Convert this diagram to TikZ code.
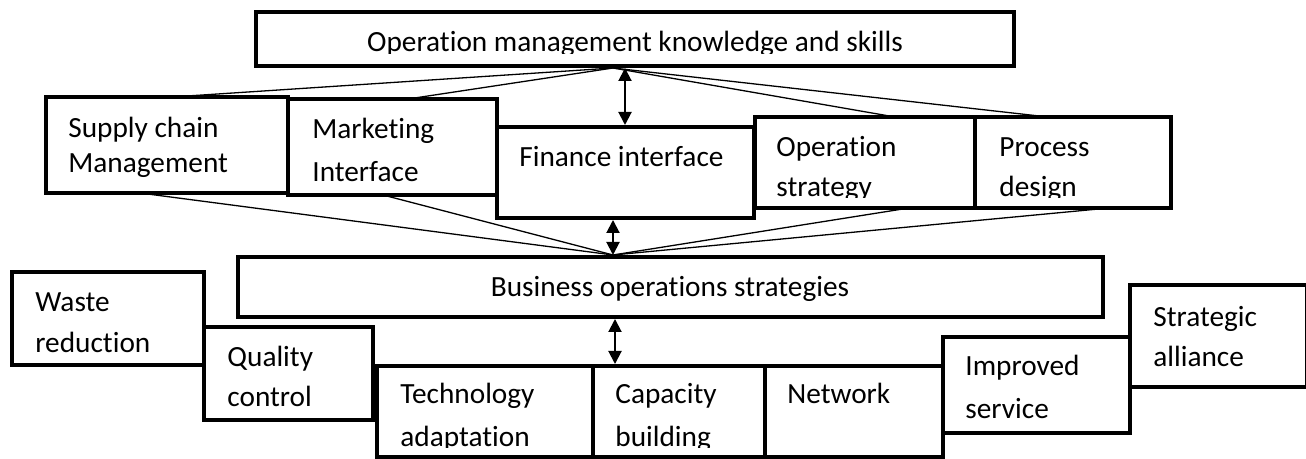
\documentclass[tikz,border=0pt]{standalone}
\usepackage{fontspec}
\setmainfont{Carlito}[Ligatures=NoCommon]
\usetikzlibrary{arrows.meta,calc,backgrounds}
\begin{document}
\begin{tikzpicture}[x=0.5pt,y=-0.5pt,
  bx/.style={draw,fill=white,line width=2pt,inner sep=0pt,outer sep=0pt},
  lbl/.style={anchor=base west,inner sep=0pt,font=\fontsize{14.65pt}{17pt}\selectfont},
  clbl/.style={anchor=base,inner sep=0pt,font=\fontsize{14.65pt}{17pt}\selectfont},
  conn/.style={line width=0.65pt},
  dbl/.style={line width=1pt,{Triangle[length=6.5pt,width=6.5pt]}-{Triangle[length=6.5pt,width=6.5pt]},shorten <=1pt,shorten >=1pt}]
\useasboundingbox (0,0) rectangle (1306,459);
% boxes
\node[bx,minimum width=379pt,minimum height=27pt] (top) at (635,39) {};
\node[bx,minimum width=121pt,minimum height=48pt] (sc) at (167,145) {};
\node[bx,minimum width=104.5pt,minimum height=48pt] (mk) at (392.5,147) {};
\node[bx,minimum width=128.5pt,minimum height=45.5pt] (fi) at (625.5,172.5) {};
\node[bx,minimum width=110pt,minimum height=45.5pt] (os) at (865,162.5) {};
\node[bx,minimum width=98pt,minimum height=45.5pt] (pd) at (1073,162.5) {};
\node[bx,minimum width=432.5pt,minimum height=30pt] (bos) at (670.5,287) {};
\node[bx,minimum width=96pt,minimum height=46.5pt] (wr) at (108,318.5) {};
\node[bx,minimum width=84.5pt,minimum height=46.5pt] (qc) at (288.5,373.5) {};
\node[bx,minimum width=108pt,minimum height=45.5pt] (ta) at (485,411.5) {};
\node[bx,minimum width=86pt,minimum height=45.5pt] (cb) at (679,411.5) {};
\node[bx,minimum width=89pt,minimum height=45.5pt] (nw) at (854,411.5) {};
\node[bx,minimum width=93.5pt,minimum height=48pt] (is) at (1036.5,385) {};
\node[bx,minimum width=88.5pt,minimum height=51pt] (sa) at (1218.5,336) {};
% hubs
\coordinate (hubT) at ($(top.south west)+(357,2)$);
\coordinate (hubB) at ($(bos.north west)+(375,-2)$);
\begin{pgfonlayer}{background}
\draw[conn] (hubT) -- ($(sc.north west)+(126,0)$);
\draw[conn] (hubT) -- ($(mk.north west)+(120,0)$);
\draw[conn] (hubT) -- ($(os.north west)+(140,0)$);
\draw[conn] (hubT) -- ($(pd.north west)+(73,0)$);
\draw[conn] (hubB) -- ($(sc.south west)+(94,0)$);
\draw[conn] (hubB) -- ($(mk.south west)+(95,0)$);
\draw[conn] (hubB) -- ($(os.south west)+(154,0)$);
\draw[conn] (hubB) -- ($(pd.south west)+(134,0)$);
\end{pgfonlayer}
% double arrows
\coordinate (a1) at ($(fi.north west)+(128,0)$);
\draw[dbl] (a1) -- (a1 |- top.south);
\coordinate (a2) at ($(fi.south west)+(116,0)$);
\draw[dbl] (a2) -- (a2 |- bos.north);
\coordinate (a3) at ($(cb.north west)+(22,0)$);
\draw[dbl] (a3) -- (a3 |- bos.south);
% texts
\begin{scope}
\clip (256,12) rectangle (1014,53.5);
\node[clbl] (ttop) at (635,52) {Operation management knowledge and skills};
\end{scope}
\node[lbl] (tsc1) at (68,138) {Supply chain};
\node[lbl] (tsc2) at (68,173) {Management};
\node[lbl] (tmk1) at (312,139) {Marketing};
\node[lbl] (tmk2) at (312,182) {Interface};
\node[lbl] (tfi) at (519,167) {Finance interface};
\node[lbl] (tos1) at (776,157) {Operation};
\node[lbl] (tpd1) at (999,157) {Process};
\begin{scope}
\clip (755,117) rectangle (1171,198);
\node[lbl] (tos2) at (776,197) {strategy};
\node[lbl] (tpd2) at (999,197) {design};
\end{scope}
\node[clbl] (tbos) at (670,297) {Business operations strategies};
\node[lbl] (twr1) at (35,312) {Waste};
\node[lbl] (twr2) at (35,353) {reduction};
\node[lbl] (tqc1) at (227,367) {Quality};
\begin{scope}
\clip (204,327) rectangle (374,408);
\node[lbl] (tqc2) at (227,407) {control};
\end{scope}
\node[lbl] (tta1) at (400,404) {Technology};
\node[lbl] (tcb1) at (615,404) {Capacity};
\begin{scope}
\clip (375,366) rectangle (765,447);
\node[lbl] (tta2) at (400,446) {adaptation};
\node[lbl] (tcb2) at (615,446) {building};
\end{scope}
\node[lbl] (tnw) at (787,404) {Network};
\node[lbl] (tis1) at (965,376) {Improved};
\node[lbl] (tis2) at (965,419) {service};
\node[lbl] (tsa1) at (1153,327) {Strategic};
\node[lbl] (tsa2) at (1153,367) {alliance};
\end{tikzpicture}
\end{document}
